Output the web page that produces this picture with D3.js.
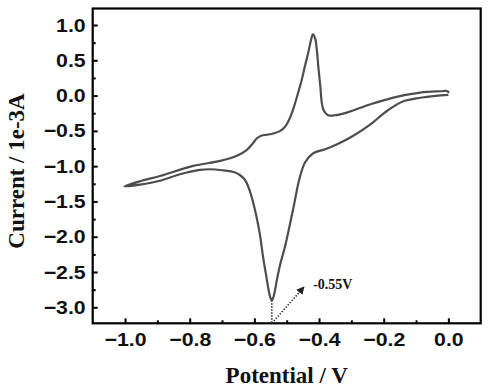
<!DOCTYPE html>
<html>
<head>
<meta charset="utf-8">
<script src="https://cdn.jsdelivr.net/npm/d3@7"></script>
<style>
    body { margin: 0; background: #fff; }
    .tick text { font-family: "Liberation Sans", Arial, sans-serif; font-weight: bold; }
    .axis_title { font-family: "Liberation Serif", "Times New Roman", serif; font-weight: bold; }
</style>
</head>
<body>
<div id="cv_chart"></div>
<script>
// Cathodic sweep, 0.0 V -> -1.0 V (lower branch)
var cathodicPotential = [0.000, -0.040, -0.087, -0.139, -0.189, -0.241, -0.294, -0.344, -0.381, -0.418,
    -0.443, -0.461, -0.477, -0.492, -0.505, -0.520, -0.530, -0.537, -0.542, -0.546,
    -0.550, -0.555, -0.562, -0.573, -0.582, -0.593, -0.604, -0.616, -0.628, -0.644,
    -0.659, -0.700, -0.737, -0.768, -0.830, -0.892, -0.954, -1.002];
var cathodicCurrent = [0.011, -0.003, -0.031, -0.081, -0.215, -0.407, -0.569, -0.690, -0.761, -0.817,
    -0.945, -1.186, -1.540, -1.866, -2.135, -2.390, -2.602, -2.780, -2.870, -2.900,
    -2.870, -2.780, -2.590, -2.290, -1.993, -1.724, -1.511, -1.327, -1.200, -1.129,
    -1.091, -1.058, -1.044, -1.054, -1.115, -1.207, -1.263, -1.288];

// Anodic sweep, -1.0 V -> 0.0 V (upper branch)
var anodicPotential = [-0.954, -0.892, -0.789, -0.706, -0.654, -0.623, -0.607, -0.592, -0.579, -0.551,
    -0.520, -0.502, -0.489, -0.480, -0.466, -0.453, -0.443, -0.433, -0.425, -0.419,
    -0.412, -0.407, -0.402, -0.396, -0.392, -0.386, -0.372, -0.350, -0.314, -0.241,
    -0.170, -0.087, -0.025, -0.004, 0.002];
var anodicCurrent = [-1.215, -1.140, -0.997, -0.926, -0.853, -0.768, -0.690, -0.605, -0.569, -0.548,
    -0.501, -0.421, -0.307, -0.194, 0.018, 0.231, 0.429, 0.613, 0.783, 0.869,
    0.812, 0.656, 0.401, 0.132, -0.081, -0.208, -0.279, -0.279, -0.241, -0.123,
    -0.028, 0.042, 0.061, 0.065, 0.040];

// Axis ticks
var xTicks = [-1.0, -0.8, -0.6, -0.4, -0.2, 0.0];
var xMinorTicks = [-0.9, -0.7, -0.5, -0.3, -0.1];
var yTicks = [1.0, 0.5, 0.0, -0.5, -1.0, -1.5, -2.0, -2.5, -3.0];
var yMinorTicks = [0.75, 0.25, -0.25, -0.75, -1.25, -1.75, -2.25, -2.75];

// Peak annotation (reduction peak)
var peakPotential = -0.546;
var peakCurrent = -2.900;
var arrowEnd = [-0.448, -2.72];
var peakLabel = "-0.55V";

var margin = { top: 8.5, right: 8.3, bottom: 67.7, left: 92.7 };
var totalWidth = 489, totalHeight = 391;
var width = totalWidth - margin.left - margin.right;
var height = totalHeight - margin.top - margin.bottom;

var svg = d3.select("#cv_chart").append("svg")
    .attr("width", totalWidth)
    .attr("height", totalHeight);

var g = svg.append("g")
    .attr("transform", "translate(" + margin.left + "," + margin.top + ")");

// Scales
var x = d3.scaleLinear().domain([-1.1, 0.1]).range([0, width]);
var y = d3.scaleLinear().domain([-3.227, 1.234]).range([height, 0]);

// Building the loop as one list of points
var loop = [];
for (var i = 0; i < cathodicPotential.length; i++) {
    loop.push([cathodicPotential[i], cathodicCurrent[i]]);
}
for (var j = 0; j < anodicPotential.length; j++) {
    loop.push([anodicPotential[j], anodicCurrent[j]]);
}

var line = d3.line()
    .x(function (d) { return x(d[0]); })
    .y(function (d) { return y(d[1]); })
    .curve(d3.curveCatmullRom.alpha(0.5));

g.append("path")
    .datum(loop)
    .attr("d", line)
    .attr("fill", "none")
    .attr("stroke", "#4d4d4d")
    .attr("stroke-width", 2.2)
    .attr("stroke-linejoin", "round");

// Major / minor ticks pointing inward
var xAxis = d3.axisBottom(x).tickValues(xTicks).tickSize(-5).tickSizeOuter(0).tickPadding(9)
    .tickFormat(d3.format(".1f"));
var xMinor = d3.axisBottom(x).tickValues(xMinorTicks).tickSize(-3).tickSizeOuter(0).tickFormat("");
var yAxis = d3.axisLeft(y).tickValues(yTicks).tickSize(-5).tickSizeOuter(0).tickPadding(7)
    .tickFormat(d3.format(".1f"));
var yMinor = d3.axisLeft(y).tickValues(yMinorTicks).tickSize(-3).tickSizeOuter(0).tickFormat("");

function styleAxis(sel) {
    sel.select(".domain").remove();
    sel.selectAll(".tick line").attr("stroke", "#000").attr("stroke-width", 2);
    sel.selectAll(".tick text").attr("fill", "#111").style("font-size", "19px")
        .each(function () {
            // the original labels are a bit wider than the font
            var w = this.getComputedTextLength();
            if (w > 0) {
                d3.select(this).attr("textLength", w * 1.12).attr("lengthAdjust", "spacingAndGlyphs");
            }
        });
}

g.append("g").attr("class", "x_axis").attr("transform", "translate(0," + height + ")").call(xAxis).call(styleAxis);
g.append("g").attr("class", "x_minor").attr("transform", "translate(0," + height + ")").call(xMinor).call(styleAxis);
g.append("g").attr("class", "y_axis").call(yAxis).call(styleAxis);
g.append("g").attr("class", "y_minor").call(yMinor).call(styleAxis);

// Frame
g.append("rect")
    .attr("x", 0).attr("y", 0)
    .attr("width", width).attr("height", height)
    .attr("fill", "none")
    .attr("stroke", "#000")
    .attr("stroke-width", 2.2);

// Annotation: dotted drop line and arrow
svg.append("defs").append("marker")
    .attr("id", "arrow_head")
    .attr("viewBox", "0 0 10 10")
    .attr("refX", 8).attr("refY", 5)
    .attr("markerWidth", 5).attr("markerHeight", 5)
    .attr("orient", "auto")
    .append("path")
    .attr("d", "M0,0 L10,5 L0,10 z")
    .attr("fill", "#222");

g.append("line")
    .attr("x1", x(peakPotential)).attr("y1", y(peakCurrent))
    .attr("x2", x(peakPotential)).attr("y2", height)
    .attr("stroke", "#333")
    .attr("stroke-width", 1.6)
    .attr("stroke-dasharray", "1.5,1.5");

g.append("line")
    .attr("x1", x(peakPotential)).attr("y1", height)
    .attr("x2", x(arrowEnd[0])).attr("y2", y(arrowEnd[1]))
    .attr("stroke", "#333")
    .attr("stroke-width", 1.6)
    .attr("stroke-dasharray", "1.5,1.5")
    .attr("marker-end", "url(#arrow_head)");

g.append("text")
    .attr("class", "axis_title")
    .attr("x", x(-0.418))
    .attr("y", y(-2.743))
    .style("font-size", "14px")
    .attr("fill", "#111")
    .text(peakLabel);

// Axis titles
svg.append("text")
    .attr("class", "axis_title")
    .attr("x", margin.left + width / 2)
    .attr("y", 383)
    .attr("text-anchor", "middle")
    .style("font-size", "23px")
    .attr("fill", "#111")
    .text("Potential / V");

svg.append("text")
    .attr("class", "axis_title")
    .attr("transform", "translate(24," + 171 + ") rotate(-90)")
    .attr("text-anchor", "middle")
    .style("font-size", "23px")
    .attr("fill", "#111")
    .text("Current / 1e-3A");
</script>
</body>
</html>
